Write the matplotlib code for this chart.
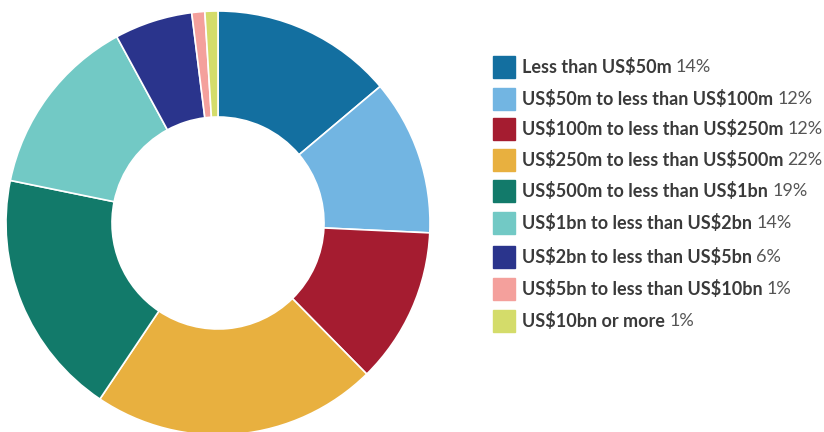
import matplotlib.pyplot as plt
from matplotlib.patches import Rectangle

plt.rcParams["text.parse_math"] = False

# Share of companies by size band
labels = [
    "Less than US$50m",
    "US$50m to less than US$100m",
    "US$100m to less than US$250m",
    "US$250m to less than US$500m",
    "US$500m to less than US$1bn",
    "US$1bn to less than US$2bn",
    "US$2bn to less than US$5bn",
    "US$5bn to less than US$10bn",
    "US$10bn or more",
]
shares = [14, 12, 12, 22, 19, 14, 6, 1, 1]
colors = ["#136fa0", "#72b5e2", "#a51c30", "#e8b03f", "#127a6a",
          "#72c9c5", "#2a348c", "#f4a09c", "#d4dc6a"]

W, H = 824, 432
fig = plt.figure(figsize=(W / 100, H / 100), dpi=100)

# donut centred at (218, 223) px, outer radius 212 px
cx, cy, r = 218, 223, 212
ax = fig.add_axes([(cx - r) / W, (H - cy - r) / H, 2 * r / W, 2 * r / H])
ax.pie(shares, colors=colors, startangle=90, counterclock=False,
       radius=1.0, wedgeprops=dict(width=0.5, edgecolor="white", linewidth=1.2))
ax.set_xlim(-1, 1)
ax.set_ylim(-1, 1)
ax.set_aspect("equal")
ax.axis("off")

# legend drawn by hand: square swatch, bold label, lighter percentage
row_y = [67, 99, 129, 160, 191, 223, 257, 289, 321]
sq = 22
for lab, val, col, y in zip(labels, shares, colors, row_y):
    fig.patches.append(Rectangle((493 / W, (H - y - sq / 2) / H), sq / W, sq / H,
                                 transform=fig.transFigure, color=col))
    t = fig.text(522 / W, (H - y) / H, lab, fontsize=13, fontweight="bold",
                 family="Lato", color="#3a3a3a", va="center", ha="left")
    fig.add_artist(plt.Annotation(f"{val}%", xy=(1, 0.5), xycoords=t,
                                  xytext=(3, 0), textcoords="offset points",
                                  fontsize=13, family="Lato", color="#555555",
                                  va="center", ha="left"))

fig.savefig("out.png", dpi=100)
